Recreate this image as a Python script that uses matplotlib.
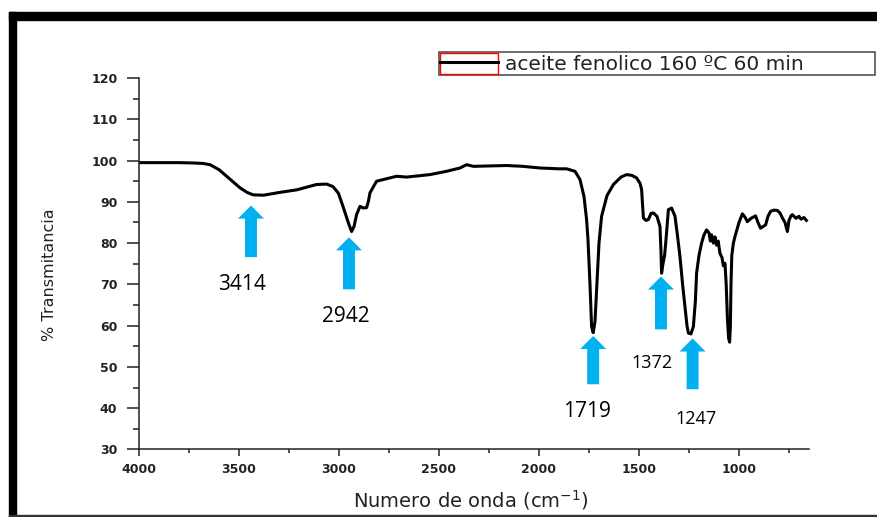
import matplotlib
matplotlib.use("Agg")
import matplotlib.pyplot as plt
from matplotlib.patches import Rectangle
from matplotlib.lines import Line2D
from matplotlib.legend_handler import HandlerTuple
from matplotlib.ticker import MultipleLocator

# espectro FTIR (numero de onda, % transmitancia)
wavenumber = [4000, 3900, 3800, 3720, 3680, 3645, 3600, 3562, 3495, 3460, 3430, 3378,
              3295, 3212, 3112, 3062, 3030, 3003, 2980, 2953, 2937, 2925, 2912, 2895,
              2878, 2862, 2853, 2845, 2812, 2712, 2662, 2545, 2462, 2395, 2362, 2328,
              2250, 2162, 2080, 1995, 1900, 1862, 1820, 1795, 1775, 1762, 1755, 1745,
              1737, 1729, 1720, 1712, 1700, 1687, 1660, 1628, 1590, 1562, 1535, 1512,
              1495, 1487, 1478, 1465, 1453, 1440, 1428, 1410, 1395, 1390, 1387, 1380,
              1372, 1365, 1353, 1337, 1320, 1308, 1295, 1282, 1270, 1260, 1253, 1240,
              1228, 1218, 1212, 1200, 1187, 1175, 1162, 1150, 1143, 1137, 1128, 1120,
              1112, 1104, 1095, 1085, 1078, 1070, 1064, 1058, 1052, 1047, 1043, 1040,
              1036, 1028, 1020, 1000, 983, 970, 958, 940, 917, 905, 892, 880, 867, 855,
              842, 825, 808, 795, 783, 770, 758, 750, 740, 733, 715, 700, 690, 675, 663]
transmit = [99.5, 99.5, 99.5, 99.4, 99.3, 99.0, 97.8, 96.2, 93.4, 92.3, 91.7, 91.6,
            92.3, 92.9, 94.2, 94.3, 93.7, 92.1, 88.9, 84.9, 82.8, 84.0, 86.9, 88.9,
            88.5, 88.6, 90.1, 92.2, 95.0, 96.2, 96.0, 96.6, 97.4, 98.2, 99.0, 98.6,
            98.7, 98.8, 98.6, 98.2, 98.0, 98.0, 97.4, 95.4, 91.3, 85.7, 80.8, 70.0,
            59.8, 58.3, 61.0, 68.7, 80.0, 86.5, 91.5, 94.2, 96.0, 96.6, 96.4, 95.8,
            94.5, 93.0, 86.1, 85.5, 85.7, 87.2, 87.3, 86.5, 84.0, 78.0, 72.7, 75.0,
            77.0, 80.8, 88.1, 88.5, 86.5, 82.0, 76.7, 70.0, 64.6, 60.0, 58.2, 58.0,
            59.8, 66.0, 72.7, 77.0, 80.0, 82.0, 83.2, 82.5, 80.5, 82.0, 80.0, 81.5,
            79.5, 80.5, 77.5, 76.5, 74.5, 75.1, 70.0, 62.0, 57.0, 56.0, 60.0, 70.0,
            77.0, 80.0, 81.6, 85.0, 87.1, 86.3, 85.2, 86.0, 86.6, 85.0, 83.6, 84.0,
            84.4, 86.5, 87.7, 88.0, 87.9, 87.3, 86.1, 85.0, 82.8, 85.5, 86.6, 86.9,
            86.0, 86.5, 85.8, 86.2, 85.5]

# flechas y etiquetas de picos
peak_labels = ["3414", "2942", "1719", "1372", "1247"]
arrow_x = [3440, 2950, 1729, 1390, 1232]
arrow_tip = [89.1, 81.4, 57.5, 71.9, 56.9]
arrow_base = [76.6, 68.8, 45.8, 59.1, 44.6]
label_x = [3485, 2965, 1761, 1437, 1216]
label_y = [69.9, 62.2, 39.3, 50.9, 37.3]
label_size = [15, 15, 15, 13, 13]

fig = plt.figure(figsize=(8.78, 5.17), dpi=100)
ax = fig.add_axes([0.1583, 0.1306, 0.7631, 0.7185])

line, = ax.plot(wavenumber, transmit, color="black", lw=2.2)

for i in range(len(peak_labels)):
    ax.annotate("", xy=(arrow_x[i], arrow_tip[i]), xytext=(arrow_x[i], arrow_base[i]),
                arrowprops=dict(arrowstyle="simple,head_length=0.94,head_width=1.87,tail_width=0.86",
                                mutation_scale=10, color="#00B0F0", lw=0,
                                shrinkA=0, shrinkB=0))
    ax.text(label_x[i], label_y[i], peak_labels[i], fontsize=label_size[i],
            family="Open Sans", ha="center", va="center", color="black")

ax.set_xlim(4000, 650)
ax.set_ylim(30, 120)
ax.set_xticks([4000, 3500, 3000, 2500, 2000, 1500, 1000])
ax.xaxis.set_minor_locator(MultipleLocator(250))
ax.yaxis.set_major_locator(MultipleLocator(10))
ax.yaxis.set_minor_locator(MultipleLocator(5))

for s in ["top", "right"]:
    ax.spines[s].set_visible(False)
for s in ["left", "bottom"]:
    ax.spines[s].set_linewidth(1.1)
    ax.spines[s].set_color("#222222")

ax.tick_params(axis="y", which="major", direction="out", length=8.6, width=1.1, pad=7,
               labelsize=9, colors="#222222")
ax.tick_params(axis="y", which="minor", direction="out", length=4.3, width=1.1, colors="#222222")
ax.tick_params(axis="x", which="major", direction="out", length=5, width=1.1, pad=5,
               labelsize=9, colors="#222222")
ax.tick_params(axis="x", which="minor", direction="out", length=2.9, width=1.1, colors="#222222")
for t in ax.get_xticklabels() + ax.get_yticklabels():
    t.set_fontweight("bold")

ax.set_xlabel("Numero de onda (cm$^{-1}$)", fontsize=14, va="center", color="#222222")
ax.xaxis.set_label_coords(0.496, -0.136)
ax.set_ylabel("% Transmitancia", fontsize=11.5, va="center", color="#222222")
ax.yaxis.set_label_coords(-0.134, 0.47)

# leyenda estilo Origin con recuadro rojo
box = Rectangle((0, 0), 1, 1, facecolor="none", edgecolor="red", lw=1)
leg_line = Line2D([], [], color="black", lw=2.2)
leg = fig.legend([(box, leg_line)], ["aceite fenolico 160 ºC 60 min"],
                 handler_map={tuple: HandlerTuple(ndivide=1)},
                 loc="upper left", bbox_to_anchor=(0.5, 0.855, 0.4966, 0.0445),
                 mode="expand", fontsize=14.5, borderpad=0.05, borderaxespad=0,
                 handlelength=2.9, handleheight=1.2, handletextpad=0.35,
                 fancybox=False, framealpha=1)
leg.get_frame().set_edgecolor("#444444")
leg.get_frame().set_linewidth(1.1)
for t in leg.get_texts():
    t.set_color("#222222")

# marco negro de la captura
fig.patches.append(Rectangle((0.01025, 0.9613), 1.0, 0.0155, transform=fig.transFigure,
                             color="black", zorder=5))
fig.patches.append(Rectangle((0.01025, 0.0), 0.008, 0.977, transform=fig.transFigure,
                             color="black", zorder=5))
fig.patches.append(Rectangle((0.01025, 0.0), 1.0, 0.004, transform=fig.transFigure,
                             color="#333333", zorder=5))

fig.savefig("out.png", dpi=100)
